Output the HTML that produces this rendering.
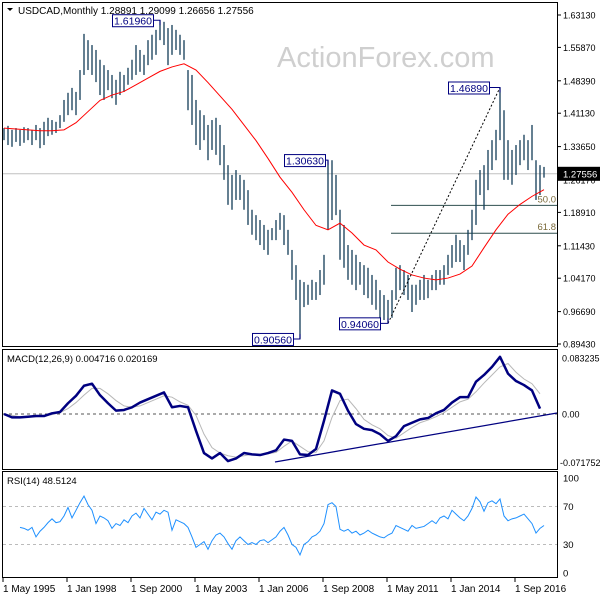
<!DOCTYPE html>
<html><head><meta charset="utf-8"><style>
html,body{margin:0;padding:0;background:#fff}
svg{display:block;font-family:"Liberation Sans",sans-serif}
</style></head><body>
<svg id="c" width="600" height="600" viewBox="0 0 600 600" xmlns="http://www.w3.org/2000/svg">
<rect width="600" height="600" fill="#fff"/>
<text x="277" y="67" font-size="29" fill="#cfcfcf">ActionForex.com</text>
<g id="main"></g>
<g id="macd"></g>
<g id="rsi"></g>
<g id="xax"></g>
</svg>
<script>
const hi=[1.378,1.383,1.374,1.378,1.374,1.380,1.378,1.374,1.385,1.378,1.392,1.401,1.396,1.392,1.407,1.441,1.457,1.468,1.459,1.508,1.589,1.575,1.564,1.553,1.531,1.519,1.508,1.497,1.486,1.504,1.497,1.513,1.531,1.564,1.553,1.542,1.575,1.587,1.598,1.620,1.616,1.602,1.609,1.598,1.587,1.575,1.508,1.497,1.441,1.418,1.407,1.385,1.396,1.401,1.385,1.340,1.295,1.273,1.284,1.273,1.262,1.239,1.195,1.183,1.172,1.161,1.150,1.154,1.172,1.188,1.183,1.150,1.105,1.071,1.038,1.033,1.027,1.038,1.033,1.060,1.094,1.306,1.306,1.273,1.195,1.161,1.116,1.105,1.094,1.078,1.071,1.065,1.049,1.038,1.015,1.004,0.993,1.015,1.065,1.071,1.060,1.049,1.027,1.027,1.038,1.049,1.038,1.049,1.060,1.060,1.071,1.094,1.116,1.139,1.127,1.116,1.150,1.195,1.262,1.284,1.295,1.329,1.351,1.374,1.469,1.418,1.351,1.329,1.340,1.351,1.363,1.351,1.385,1.306,1.295,1.291];
const lo=[1.351,1.340,1.336,1.347,1.338,1.345,1.351,1.340,1.351,1.333,1.340,1.360,1.363,1.367,1.378,1.392,1.407,1.418,1.407,1.441,1.497,1.508,1.497,1.481,1.452,1.441,1.463,1.445,1.430,1.452,1.459,1.475,1.486,1.497,1.504,1.497,1.519,1.531,1.542,1.575,1.564,1.519,1.542,1.553,1.542,1.531,1.418,1.385,1.340,1.329,1.351,1.306,1.329,1.318,1.295,1.262,1.206,1.195,1.217,1.217,1.195,1.161,1.139,1.127,1.116,1.105,1.094,1.127,1.127,1.150,1.116,1.094,1.038,0.993,0.906,0.977,0.982,0.993,0.993,1.004,1.027,1.150,1.172,1.183,1.083,1.065,1.038,1.027,1.015,1.027,1.004,0.997,0.982,0.971,0.953,0.948,0.941,0.953,0.993,1.015,1.004,0.993,0.966,0.982,0.993,0.993,0.997,1.015,1.015,1.027,1.027,1.049,1.065,1.078,1.078,1.060,1.094,1.127,1.161,1.228,1.195,1.239,1.284,1.306,1.351,1.262,1.262,1.251,1.273,1.295,1.306,1.284,1.306,1.217,1.228,1.267];
const ma=[1.378,1.376,1.374,1.372,1.372,1.374,1.390,1.415,1.440,1.452,1.460,1.475,1.490,1.505,1.515,1.522,1.508,1.480,1.450,1.420,1.385,1.350,1.310,1.268,1.234,1.195,1.160,1.150,1.165,1.143,1.116,1.105,1.078,1.062,1.049,1.042,1.038,1.042,1.051,1.069,1.110,1.150,1.185,1.207,1.225,1.240];
const macdVals=[0.000,-0.005,-0.005,-0.004,-0.003,-0.003,0.001,0.003,0.016,0.027,0.042,0.045,0.028,0.016,0.005,0.006,0.010,0.017,0.022,0.027,0.032,0.010,0.012,0.010,-0.025,-0.058,-0.066,-0.058,-0.070,-0.066,-0.058,-0.060,-0.061,-0.058,-0.054,-0.038,-0.040,-0.060,-0.061,-0.052,-0.010,0.035,0.030,0.005,-0.015,-0.022,-0.024,-0.030,-0.040,-0.033,-0.018,-0.013,-0.008,-0.006,0.001,0.006,0.017,0.025,0.025,0.048,0.058,0.070,0.085,0.060,0.049,0.043,0.035,0.008];
const signalVals=[0.000,-0.002,-0.004,-0.004,-0.004,-0.003,-0.001,0.002,0.008,0.017,0.028,0.038,0.038,0.030,0.020,0.012,0.010,0.012,0.017,0.022,0.027,0.025,0.018,0.013,-0.002,-0.030,-0.050,-0.058,-0.062,-0.064,-0.062,-0.060,-0.060,-0.059,-0.057,-0.048,-0.040,-0.048,-0.056,-0.057,-0.040,-0.005,0.020,0.022,0.008,-0.008,-0.016,-0.022,-0.032,-0.036,-0.028,-0.020,-0.013,-0.009,-0.004,0.002,0.010,0.018,0.022,0.033,0.046,0.058,0.070,0.075,0.062,0.052,0.045,0.030];
const rsiVals=[48,47,45,48,38,44,48,53,57,53,54,60,69,58,66,74,81,72,66,52,60,58,55,47,52,50,56,53,60,63,58,68,62,56,64,62,66,64,45,56,54,52,48,38,27,30,33,25,34,40,42,38,31,25,34,38,34,30,32,30,34,35,32,35,38,44,48,40,30,27,19,30,33,38,40,44,52,72,74,70,46,44,46,42,44,40,42,45,42,40,38,37,40,42,50,48,46,44,50,47,48,49,52,55,52,58,60,57,66,62,58,55,60,68,80,75,65,74,76,73,78,60,55,57,58,60,62,57,52,42,47,50];
const priceTicks=["1.63130","1.55870","1.48390","1.41130","1.33650","1.26170","1.18910","1.11430","1.04170","0.96690","0.89430"];
const dateLabels=["1 May 1995","1 Jan 1998","1 Sep 2000","1 May 2003","1 Jan 2006","1 Sep 2008","1 May 2011","1 Jan 2014","1 Sep 2016"];
const dateMonths=[0,32,64,96,128,160,192,224,256];
const lastPrice=1.27556;

const NS="http://www.w3.org/2000/svg";
function mk(p,t,a,txt){const e=document.createElementNS(NS,t);for(const k in a)e.setAttribute(k,a[k]);if(txt!==undefined)e.textContent=txt;p.appendChild(e);return e;}
const py=p=>15+(1.6313-p)/0.737*329;
const bx=i=>4+4*i;
const my=v=>414-v*673;
const ry=v=>573-v*0.95;
const mx=m=>3+2*m;
const M=document.getElementById('main'),D=document.getElementById('macd'),R=document.getElementById('rsi'),X=document.getElementById('xax');

let f;
f=mk(M,'rect',{x:2.5,y:2.5,width:555,height:344,fill:'none',stroke:'#000'});

f=mk(D,'rect',{x:2.5,y:349.5,width:555,height:120,fill:'none',stroke:'#000'});

f=mk(R,'rect',{x:2.5,y:471.5,width:555,height:106,fill:'none',stroke:'#000'});


priceTicks.forEach((t,i)=>{const y=py(parseFloat(t));
 let l=mk(M,'line',{x1:557,x2:561,y1:y,y2:y,stroke:'#000'});
 
 let e=mk(M,'text',{x:563,y:y+3.5,'font-size':9,fill:'#000'},t);
 });

let ly=py(lastPrice);
f=mk(M,'line',{x1:3,x2:557,y1:ly,y2:ly,stroke:'#c0c0c0'});


const lowP=0.9406,highP=1.4689;
[[0.5,'50.0'],[0.618,'61.8']].forEach(([r,t])=>{const y=py(highP-r*(highP-lowP));
 let l=mk(M,'line',{x1:391,x2:557,y1:y,y2:y,stroke:'#2f4f4f'});
 
 let e=mk(M,'text',{x:556,y:y-3,'font-size':9.5,fill:'#7a6a3a','text-anchor':'end'},t);
 });

hi.forEach((h,i)=>{let l=mk(M,'line',{x1:bx(i),x2:bx(i),y1:py(h),y2:py(lo[i]),stroke:'#123c58','stroke-width':1.3});
 });

f=mk(M,'polyline',{points:ma.map((v,i)=>bx(3*i)+','+py(v)).join(' '),fill:'none',stroke:'#ff0000','stroke-width':1});


f=mk(M,'line',{x1:bx(96),y1:py(lowP),x2:bx(124),y2:py(highP),stroke:'#000','stroke-dasharray':'2,2'});


function ann(txt,bi,p,bxl,side){const y=py(p);const w=41,h=12;const x0=bxl;const by=y-6;
 let pl=mk(M,'polyline',{points:`${x0+w},${y} ${bx(bi)},${y} ${bx(bi)},${y+(side==='top'?5:-5)}`,fill:'none',stroke:'#000080'});
 
 let r=mk(M,'rect',{x:x0+0.5,y:by+0.5,width:w,height:h,fill:'#fff',stroke:'#000080'});
 
 let t=mk(M,'text',{x:x0+w/2+0.5,y:by+10.5,'font-size':10.5,fill:'#000080','text-anchor':'middle'},txt);
 }
ann('1.61960',39,1.6196,112,'top');
ann('1.30630',81,1.3063,284,'top');
ann('0.90560',74,0.9056,252,'bottom');
ann('0.94060',96,0.9406,339,'bottom');
ann('1.46890',124,1.4689,448,'top');

f=mk(M,'rect',{x:558,y:ly-7,width:42,height:14,fill:'#000'});

f=mk(M,'text',{x:563,y:ly+3.5,'font-size':9.5,fill:'#fff'},lastPrice.toFixed(5));


f=mk(M,'path',{d:'M7 8 L13 8 L10 11 Z',fill:'#000'});

f=mk(M,'text',{x:18,y:14,'font-size':10,fill:'#000'},'USDCAD,Monthly  1.28891 1.29099 1.26656 1.27556');


f=mk(D,'line',{x1:3,x2:557,y1:my(0),y2:my(0),stroke:'#555','stroke-dasharray':'3,3'});

f=mk(D,'polyline',{points:signalVals.map((v,i)=>bx(2*i)+','+my(v)).join(' '),fill:'none',stroke:'#b8b8b8','stroke-width':1});

f=mk(D,'polyline',{points:macdVals.map((v,i)=>bx(2*i)+','+my(v)).join(' '),fill:'none',stroke:'#000080','stroke-width':2.5,'stroke-linejoin':'round'});

f=mk(D,'line',{x1:275,y1:462,x2:557,y2:413,stroke:'#000080','stroke-width':1.2});

[['0.083235',0.083235],['0.00',0],['-0.071752',-0.071752]].forEach(([t,v])=>{
 let e=mk(D,'text',{x:t[0]==='-'?560:562,y:my(v)+3.5,'font-size':9,fill:'#000'},t);
 });
f=mk(D,'text',{x:7,y:362,'font-size':9.5,fill:'#000'},'MACD(12,26,9) 0.004716 0.020169');


[70,30].forEach(v=>{let l=mk(R,'line',{x1:3,x2:557,y1:ry(v),y2:ry(v),stroke:'#bbb','stroke-dasharray':'3,3'});
 });
f=mk(R,'polyline',{points:rsiVals.map((v,i)=>bx(i+4)+','+ry(v)).join(' '),fill:'none',stroke:'#1e90ff','stroke-width':1});

[100,70,30,0].forEach(v=>{let e=mk(R,'text',{x:563,y:ry(v)+3.5,'font-size':9.5,fill:'#000'},String(v));
 });
f=mk(R,'text',{x:7,y:484,'font-size':9.5,fill:'#000'},'RSI(14) 48.5124');


dateLabels.forEach((t,i)=>{const x=mx(dateMonths[i]);
 let l=mk(X,'line',{x1:x,x2:x,y1:578,y2:582,stroke:'#000'});
 
 let e=mk(X,'text',{x:x,y:592,'font-size':10,fill:'#000'},t);
 });
</script>
</body></html>
